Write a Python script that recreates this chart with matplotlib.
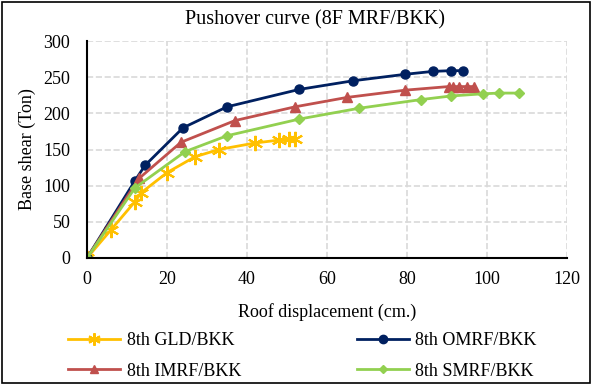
import matplotlib.pyplot as plt
from matplotlib.lines import Line2D
from matplotlib.patches import Rectangle

plt.rcParams['font.family'] = ['Liberation Serif', 'DejaVu Serif']

# pushover curves, roof displacement (cm) vs base shear (ton)
gld_x = [0, 6, 12, 13.5, 20, 27, 33, 42, 48, 50.5, 52]
gld_y = [0, 39, 78, 90, 118, 140, 150, 159, 163, 164, 164]
omrf_x = [0, 12, 14.5, 24, 35, 53, 66.5, 79.6, 86.5, 91, 94]
omrf_y = [0, 107, 128, 180, 209, 233, 245, 254, 258, 259, 259]
imrf_x = [0, 13, 23.5, 37, 52, 65, 79.5, 90.4, 91.6, 93, 95, 96.8]
imrf_y = [0, 110, 160, 190, 209, 222, 232, 237, 237, 237, 237, 237]
smrf_x = [0, 12, 24.5, 35, 53, 68, 83.5, 91, 99, 103, 108]
smrf_y = [0, 97, 147, 169, 192, 207, 219, 224, 227, 228, 228]

labels = ['8th GLD/BKK', '8th OMRF/BKK', '8th IMRF/BKK', '8th SMRF/BKK']
colors = ['#FFC000', '#002060', '#C0504D', '#92D050']
star = (6, 2, 0)

fig = plt.figure(figsize=(5.92, 3.85), dpi=100)
ax = fig.add_axes([87/592, 1 - 258/385, 480/592, 217/385])

ax.plot(gld_x, gld_y, color=colors[0], lw=2, marker=star, ms=11, mew=1.5)
ax.plot(omrf_x, omrf_y, color=colors[1], lw=2, marker='o', ms=6.5)
ax.plot(imrf_x, imrf_y, color=colors[2], lw=2, marker='^', ms=6.5)
ax.plot(smrf_x, smrf_y, color=colors[3], lw=2, marker='D', ms=5.5)

ax.set_xlim(0, 120)
ax.set_ylim(0, 300)
ax.set_xticks(range(0, 121, 20))
ax.set_yticks(range(0, 301, 50))
ax.grid(True, color='#D9D9D9', ls='--', lw=1.2)
ax.set_axisbelow(True)
for s in ['top', 'right']:
    ax.spines[s].set_visible(False)
ax.spines['left'].set_linewidth(1.5)
ax.spines['bottom'].set_linewidth(1.5)
ax.tick_params(length=0, labelsize=13)
ax.tick_params(axis='y', pad=12)
ax.tick_params(axis='x', pad=9)

ax.set_xlabel('Roof displacement (cm.)', fontsize=13, labelpad=11)
ax.set_ylabel('Base shear (Ton)', fontsize=13, labelpad=5)
fig.text(315/592, 1 - 20/385, 'Pushover curve (8F MRF/BKK)', ha='center',
         va='center', fontsize=14.5)

h_gld = Line2D([], [], color=colors[0], lw=2, marker=star, ms=9, mew=1.5)
h_omrf = Line2D([], [], color=colors[1], lw=2, marker='o', ms=6)
h_imrf = Line2D([], [], color=colors[2], lw=2, marker='^', ms=6)
h_smrf = Line2D([], [], color=colors[3], lw=2, marker='D', ms=4.5)
fig.legend([h_gld, h_imrf, h_omrf, h_smrf],
           [labels[0], labels[2], labels[1], labels[3]],
           ncol=2, loc='center left', bbox_to_anchor=(68/592, 1 - 356/385),
           borderpad=0, borderaxespad=0,
           frameon=False, fontsize=13, handlelength=2.9, columnspacing=6.4,
           handletextpad=0.35, labelspacing=0.75)

fig.patches.append(Rectangle((0.004, 0.004), 0.992, 0.992, transform=fig.transFigure,
                             fill=False, ec='black', lw=1.2))

fig.savefig('out.png', dpi=100)
